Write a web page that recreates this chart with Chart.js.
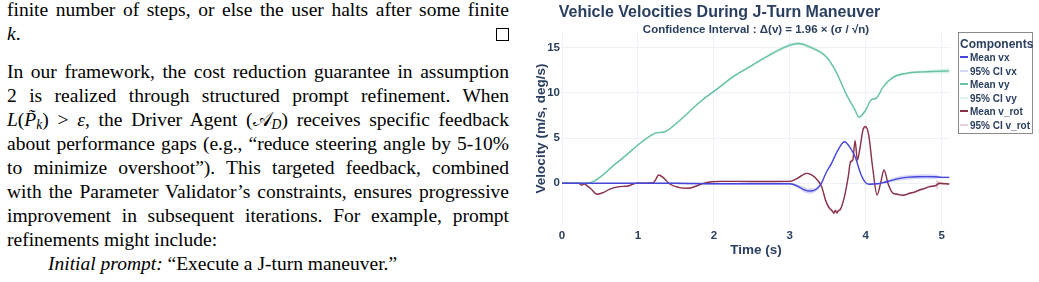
<!DOCTYPE html>
<html>
<head>
<meta charset="utf-8">
<script src="https://cdn.jsdelivr.net/npm/chart.js@4.4.1/dist/chart.umd.min.js"></script>
<style>
html,body{margin:0;padding:0;background:#fff;width:1039px;height:282px;overflow:hidden;}
#text{position:absolute;left:0;top:0;width:520px;height:282px;font-family:"Liberation Serif","Times New Roman",serif;font-size:19.5px;color:#000;}
.ln{position:absolute;left:7px;width:502px;white-space:nowrap;line-height:24px;height:24px;}
.ln sub{font-size:70%;line-height:0;vertical-align:-0.25em;}
.qed{position:absolute;right:0;top:6px;width:11px;height:11px;border:1px solid #000;}
#chartWrap{position:absolute;left:520px;top:0;width:519px;height:282px;}
#legend{position:absolute;left:958px;top:32px;width:75px;height:102px;box-sizing:border-box;border:1px solid #8a8a8a;background:#fff;font-family:"Liberation Sans",Arial,sans-serif;color:#2a3f5f;font-weight:bold;}
#legend .lt{position:absolute;left:1px;top:4px;font-size:12px;line-height:14px;white-space:nowrap;}
#legend .it{position:absolute;left:1px;font-size:10px;line-height:12px;white-space:nowrap;}
#legend .sw{display:inline-block;width:8px;height:2px;vertical-align:middle;margin-right:2px;position:relative;top:-1px;}
</style>
</head>
<body>
<div id="text">
  <div class="ln j" style="top:-2px">finite number of steps, or else the user halts after some finite</div>
  <div class="ln" style="top:22px"><i>k</i>.<span class="qed"></span></div>
  <div class="ln j" style="top:60px">In our framework, the cost reduction guarantee in assumption</div>
  <div class="ln j" style="top:84px">2 is realized through structured prompt refinement. When</div>
  <div class="ln j" style="top:108px"><i>L</i>(<i>P&#771;</i><sub><i>k</i></sub>) &gt; <i>ε</i>, the Driver Agent (𝒜<sub><i>D</i></sub>) receives specific feedback</div>
  <div class="ln j" style="top:132px">about performance gaps (e.g., “reduce steering angle by 5-10%</div>
  <div class="ln j" style="top:156px">to minimize overshoot”). This targeted feedback, combined</div>
  <div class="ln j" style="top:180px">with the Parameter Validator’s constraints, ensures progressive</div>
  <div class="ln j" style="top:204px">improvement in subsequent iterations. For example, prompt</div>
  <div class="ln" style="top:228px">refinements might include:</div>
  <div class="ln" style="top:252px;left:48px"><i>Initial prompt:</i> “Execute a J-turn maneuver.”</div>
</div>
<div id="chartWrap"><canvas id="c" width="519" height="282"></canvas></div>
<div id="legend"></div>
<script>
// ---------- data ----------
const titleText = "Vehicle Velocities During J-Turn Maneuver";
const subtitleText = "Confidence Interval : Δ(v) = 1.96 × (σ / √n)";
const xTitle = "Time (s)";
const yTitle = "Velocity (m/s, deg/s)";
const timeTicks = [0, 1, 2, 3, 4, 5];
const velTicks = [0, 5, 10, 15];
const legendTitle = "Components";
const seriesNames = ["Mean vx", "95% CI vx", "Mean vy", "95% CI vy", "Mean v_rot", "95% CI v_rot"];

const vxTime = [0, 1.5, 2.0, 3.0, 3.1, 3.2, 3.27, 3.35, 3.41, 3.48, 3.55, 3.63, 3.72, 3.79, 3.86, 3.94, 4.0, 4.05, 4.15, 4.23, 4.35, 4.45, 4.57, 4.67, 4.8, 4.91, 5.0, 5.1];
const vxMean = [0, 0, -0.05, -0.05, -0.3, -0.75, -0.85, -0.65, -0.1, 1.2, 2.2, 3.6, 4.59, 4.0, 2.93, 0.92, 0.05, -0.1, -0.05, 0.07, 0.35, 0.55, 0.68, 0.73, 0.74, 0.73, 0.66, 0.66];
const vxCI   = [0.02, 0.1, 0.12, 0.12, 0.2, 0.3, 0.3, 0.2, 0.1, 0.08, 0.08, 0.08, 0.08, 0.08, 0.08, 0.08, 0.08, 0.1, 0.1, 0.12, 0.2, 0.25, 0.25, 0.25, 0.25, 0.25, 0.1, 0.1];

const vyTime = [0, 0.25, 0.36, 0.72, 1.22, 1.30, 1.36, 1.53, 1.82, 2.08, 2.25, 2.5, 2.69, 3.0, 3.11, 3.26, 3.48, 3.61, 3.74, 3.86, 3.91, 4.0, 4.07, 4.14, 4.23, 4.36, 4.53, 4.75, 4.93, 5.1];
const vyMean = [0, 0, 0.05, 2.25, 5.5, 5.62, 5.7, 6.8, 9.0, 10.65, 11.75, 13.0, 13.96, 15.25, 15.43, 15.06, 13.96, 12.3, 9.9, 8.08, 7.3, 8.08, 9.2, 9.4, 10.65, 11.69, 12.13, 12.3, 12.35, 12.41];
const vyCI   = [0, 0, 0.05, 0.08, 0.1, 0.1, 0.1, 0.1, 0.1, 0.12, 0.12, 0.12, 0.15, 0.2, 0.2, 0.2, 0.15, 0.15, 0.15, 0.15, 0.15, 0.15, 0.15, 0.15, 0.15, 0.15, 0.15, 0.15, 0.25, 0.25];

const vrotTime = [0, 0.22, 0.26, 0.29, 0.32, 0.38, 0.46, 0.55, 0.63, 0.76, 0.87, 0.98, 1.2, 1.24, 1.27, 1.33, 1.42, 1.53, 1.66, 1.77, 1.86, 1.97, 2.1, 2.5, 3.0, 3.1, 3.22, 3.33, 3.42, 3.47, 3.51, 3.54, 3.56, 3.58, 3.6, 3.62, 3.64, 3.66, 3.72, 3.77, 3.8, 3.83, 3.86, 3.89, 3.92, 3.97, 4.0, 4.04, 4.09, 4.15, 4.2, 4.24, 4.3, 4.36, 4.4, 4.49, 4.58, 4.65, 4.71, 4.78, 4.84, 4.92, 4.94, 4.97, 5.1];
const vrotMean = [0, 0, -0.2, -0.05, -0.2, -0.6, -1.2, -1.0, -0.63, -0.37, -0.3, 0, 0.07, 0.5, 0.92, 0.66, -0.08, -0.44, -0.55, -0.3, 0, 0.18, 0.22, 0.2, 0.22, 0.55, 1.1, 0.66, -0.37, -1.84, -2.6, -2.9, -3.05, -3.3, -3.0, -3.25, -3.0, -2.94, -1.47, 0.73, 2.38, 2.57, 4.7, 2.57, 3.67, 6.06, 6.24, 5.3, 1.83, -1.29, 0.18, 1.47, -0.19, -1.1, -1.18, -1.32, -1.1, -0.95, -0.74, -0.55, -0.37, -0.26, -0.15, 0, -0.08];
const vrotCI = [0.06, 0.06, 0.06, 0.06, 0.06, 0.06, 0.06, 0.06, 0.06, 0.06, 0.06, 0.06, 0.06, 0.06, 0.06, 0.06, 0.06, 0.06, 0.06, 0.06, 0.06, 0.06, 0.06, 0.06, 0.06, 0.06, 0.06, 0.06, 0.18, 0.18, 0.18, 0.18, 0.18, 0.18, 0.18, 0.18, 0.18, 0.18, 0.2, 0.2, 0.2, 0.2, 0.2, 0.2, 0.2, 0.2, 0.2, 0.2, 0.2, 0.1, 0.1, 0.1, 0.1, 0.1, 0.1, 0.1, 0.1, 0.1, 0.1, 0.1, 0.1, 0.12, 0.6, 0.15, 0.1];

// ---------- styling ----------
const colVx = 'rgb(70,70,218)', bandVx = 'rgba(70,70,218,0.22)';
const colVy = 'rgb(102,194,165)', bandVy = 'rgba(102,194,165,0.22)';
const colVr = 'rgb(138,48,72)', bandVr = 'rgba(138,48,72,0.22)';
const textCol = '#2a3f5f';
const gridCol = '#eef1f7';
const sansFont = '"Liberation Sans", Arial, sans-serif';

// ---------- justify text lines ----------
document.querySelectorAll('.ln.j').forEach(el => {
  const span = document.createElement('span');
  span.innerHTML = el.innerHTML; el.innerHTML = ''; el.appendChild(span);
  const w = span.getBoundingClientRect().width;
  const n = (el.textContent.match(/ /g) || []).length;
  if (n > 0) el.style.wordSpacing = ((502 - w) / n) + 'px';
});

// ---------- chart ----------
const pts = (t, v) => t.map((x, i) => ({x: x, y: v[i]}));
const band = (t, v, c, s) => t.map((x, i) => ({x: x, y: v[i] + s * c[i]}));
const meanDs = (label, t, v, col) => ({label, data: pts(t, v), borderColor: col, backgroundColor: col, borderWidth: 1.4, pointRadius: 0, fill: false, cubicInterpolationMode: 'monotone', order: 0});
const lowDs = (label, t, v, c, col) => ({label: label + ' low', data: band(t, v, c, -1), borderWidth: 0, borderColor: 'rgba(0,0,0,0)', backgroundColor: col, pointRadius: 0, fill: false, cubicInterpolationMode: 'monotone', order: 1});
const upDs = (label, t, v, c, col) => ({label, data: band(t, v, c, 1), borderWidth: 0, borderColor: 'rgba(0,0,0,0)', backgroundColor: col, pointRadius: 0, fill: '-1', cubicInterpolationMode: 'monotone', order: 1});

const datasets = [
  lowDs(seriesNames[1], vxTime, vxMean, vxCI, bandVx), upDs(seriesNames[1], vxTime, vxMean, vxCI, bandVx),
  lowDs(seriesNames[3], vyTime, vyMean, vyCI, bandVy), upDs(seriesNames[3], vyTime, vyMean, vyCI, bandVy),
  lowDs(seriesNames[5], vrotTime, vrotMean, vrotCI, bandVr), upDs(seriesNames[5], vrotTime, vrotMean, vrotCI, bandVr),
  meanDs(seriesNames[0], vxTime, vxMean, colVx),
  meanDs(seriesNames[2], vyTime, vyMean, colVy),
  meanDs(seriesNames[4], vrotTime, vrotMean, colVr)
];

const headerPlugin = {
  id: 'header',
  afterDraw(chart) {
    const ctx = chart.ctx;
    ctx.save();
    ctx.fillStyle = textCol;
    ctx.textAlign = 'center';
    ctx.textBaseline = 'middle';
    ctx.font = 'bold 16px ' + sansFont;
    ctx.fillText(titleText, 199.5, 13);
    ctx.font = 'bold 11.5px ' + sansFont;
    ctx.fillText(subtitleText, (chart.chartArea.left + chart.chartArea.right) / 2, 30);
    ctx.restore();
  }
};

new Chart(document.getElementById('c'), {
  type: 'line',
  data: {datasets},
  plugins: [headerPlugin],
  options: {
    responsive: false,
    animation: false,
    events: [],
    layout: {padding: {top: 32, right: 89, bottom: 0, left: 0}},
    plugins: {legend: {display: false}, tooltip: {enabled: false}, title: {display: false}},
    scales: {
      x: {
        type: 'linear', min: 0, max: 5.11,
        afterBuildTicks: ax => { ax.ticks = timeTicks.map(v => ({value: v})); },
        afterFit: s => { s.height = 57; },
        grid: {color: gridCol, drawTicks: false, lineWidth: 1},
        border: {display: false},
        ticks: {color: textCol, font: {family: sansFont, size: 11.5, weight: 'bold'}, padding: 4, maxRotation: 0},
        title: {display: true, text: xTitle, color: textCol, font: {family: sansFont, size: 13.5, weight: 'bold'}, padding: {top: 0, bottom: 24}}
      },
      y: {
        type: 'linear', min: -4.6, max: 16.7,
        afterBuildTicks: ax => { ax.ticks = velTicks.map(v => ({value: v})); },
        afterFit: s => { s.width = 42; },
        grid: {color: gridCol, drawTicks: false, lineWidth: 1},
        border: {display: false},
        ticks: {color: textCol, font: {family: sansFont, size: 11.5, weight: 'bold'}, padding: 2},
        title: {display: true, text: yTitle, color: textCol, font: {family: sansFont, size: 13.5, weight: 'bold'}, padding: {top: 13, bottom: 0}}
      }
    }
  }
});

// ---------- legend (HTML) ----------
const legendColors = [colVx, bandVx, colVy, bandVy, colVr, bandVr];
const lg = document.getElementById('legend');
const lt = document.createElement('div'); lt.className = 'lt'; lt.textContent = legendTitle; lg.appendChild(lt);
seriesNames.forEach((name, i) => {
  const d = document.createElement('div');
  d.className = 'it';
  d.style.top = (19 + i * 13.5) + 'px';
  const sw = document.createElement('span'); sw.className = 'sw'; sw.style.background = legendColors[i];
  d.appendChild(sw);
  d.appendChild(document.createTextNode(name));
  lg.appendChild(d);
});
</script>
</body>
</html>
